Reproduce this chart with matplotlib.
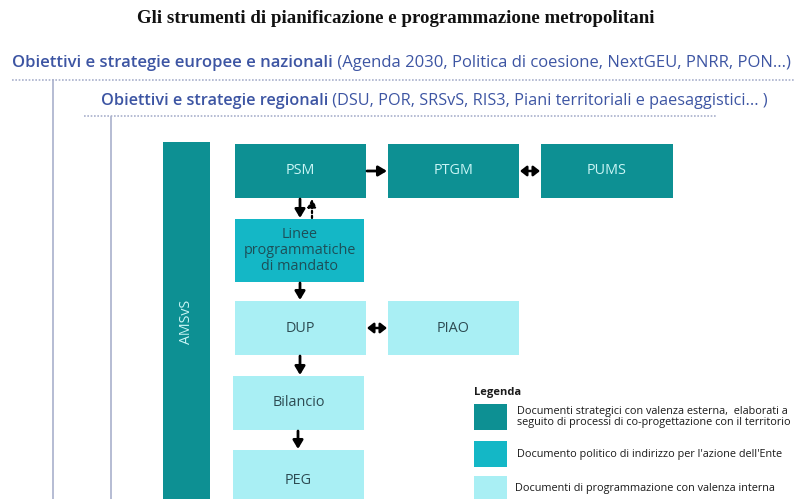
import matplotlib.pyplot as plt
from matplotlib.patches import Rectangle

# diagram content
title = "Gli strumenti di pianificazione e programmazione metropolitani"
level1_bold = "Obiettivi e strategie europee e nazionali"
level1_rest = " (Agenda 2030, Politica di coesione, NextGEU, PNRR, PON...)"
level2_bold = "Obiettivi e strategie regionali"
level2_rest = " (DSU, POR, SRSvS, RIS3, Piani territoriali e paesaggistici... )"

box_labels = ["PSM", "PTGM", "PUMS", "Linee\nprogrammatiche\ndi mandato", "DUP", "PIAO", "Bilancio", "PEG"]
box_kind = [0, 0, 0, 1, 2, 2, 2, 2]   # 0 strategic, 1 political, 2 internal
side_label = "AMSvS"

legend_title = "Legenda"
legend_labels = [
    "Documenti strategici con valenza esterna,  elaborati a\nseguito di processi di co-progettazione con il territorio",
    "Documento politico di indirizzo per l'azione dell'Ente",
    "Documenti di programmazione con valenza interna",
]

# links between boxes: (from, to, style)
links = [(0, 1, "->"), (1, 2, "<->"), (4, 5, "<->"),
         (0, 3, "->"), (3, 0, "dotted"), (3, 4, "->"), (4, 6, "->"), (6, 7, "->")]

# layout (pixels, origin top-left)
box_xy = [(235, 144), (388, 144), (541, 144), (235, 219), (235, 301), (388, 301), (233, 376), (233, 450)]
box_wh = [(131, 54), (131, 54), (132, 54), (129, 63), (131, 54), (131, 54), (131, 54), (131, 60)]

fill = ["#0d9093", "#14b7c6", "#a9eff4"]
txt = ["#c9f5f5", "#1d4f58", "#2d4b52"]
blue = "#3d55a3"
guide = "#a9b0cc"
sans = "Open Sans"

fig = plt.figure(figsize=(7.95, 4.99), dpi=100)
ax = fig.add_axes([0, 0, 1, 1])
ax.set_xlim(0, 795)
ax.set_ylim(499, 0)
ax.axis("off")

ax.text(396, 18, title, ha="center", va="center", fontsize=13.6,
        fontweight="bold", family="Liberation Serif", color="#111111")


def two_part(x, y, bold, rest, size):
    t = ax.text(x, y, bold, ha="left", va="center", fontsize=size,
                fontweight="semibold", family=sans, color=blue)
    fig.canvas.draw()
    bb = t.get_window_extent().transformed(ax.transData.inverted())
    ax.text(bb.x1, y, rest, ha="left", va="center", fontsize=size,
            family=sans, color=blue)


two_part(12, 63, level1_bold, level1_rest, 11.95)
two_part(101, 101, level2_bold, level2_rest, 11.7)

# dotted guide lines
ax.plot([12, 795], [80, 80], color=guide, lw=1.2, ls=(0, (1, 1)))
ax.plot([53, 53], [80, 499], color=guide, lw=1.2)
ax.plot([84, 716], [116, 116], color=guide, lw=1.2, ls=(0, (1, 1)))
ax.plot([111, 111], [117, 499], color=guide, lw=1.2)

# AMSvS bar
ax.add_patch(Rectangle((163, 142), 47, 360, color=fill[0], lw=0))
ax.text(186, 322, side_label, rotation=90, ha="center", va="center",
        fontsize=10.2, family=sans, color=txt[0])

for lab, k, (x, y), (w, h) in zip(box_labels, box_kind, box_xy, box_wh):
    ax.add_patch(Rectangle((x, y), w, h, color=fill[k], lw=0))
    ax.text(x + w / 2, y + h / 2, lab, ha="center", va="center", fontsize=10.4,
            family=sans, color=txt[k], linespacing=1.05)

for a, b, st in links:
    xa, ya = box_xy[a]
    wa, ha_ = box_wh[a]
    xb, yb = box_xy[b]
    wb, hb = box_wh[b]
    if abs(ya - yb) < 1:  # horizontal
        p0 = (xa + wa + 1, ya + ha_ / 2)
        p1 = (xb - 1, yb + hb / 2)
    elif st == "dotted":
        p0 = (xa + 77, ya - 1)
        p1 = (xb + 77, yb + hb + 1)
    else:
        p0 = (xa + 65, ya + ha_ + 1)
        p1 = (xa + 65, yb - 1)
    if st == "dotted":
        props = dict(arrowstyle="-|>,head_length=0.45,head_width=0.25", color="black",
                     lw=1.6, ls=(0, (1, 1.2)), shrinkA=0, shrinkB=0)
    elif st == "<->":
        props = dict(arrowstyle="<|-|>,head_length=0.38,head_width=0.3", color="black",
                     lw=1.8, shrinkA=0, shrinkB=0)
    else:
        props = dict(arrowstyle="-|>,head_length=0.5,head_width=0.3", color="black",
                     lw=2.0, shrinkA=0, shrinkB=0)
    ax.annotate("", xy=p1, xytext=p0, arrowprops=props)

# legend
ax.text(474, 392, legend_title, ha="left", va="center", fontsize=8.0,
        fontweight="bold", family=sans, color="#1a1a1a")
sw_y = [404, 441, 476]
sw_h = [26, 26, 24]
lab_x = [517, 517, 515]
for k, lab in enumerate(legend_labels):
    ax.add_patch(Rectangle((474, sw_y[k]), 33, sw_h[k], color=fill[k], lw=0))
    ax.text(lab_x[k], sw_y[k] + sw_h[k] / 2, lab, ha="left", va="center",
            fontsize=7.8, family=sans, color="#1a1a1a", linespacing=1.1)

fig.savefig("out.png", dpi=100)
